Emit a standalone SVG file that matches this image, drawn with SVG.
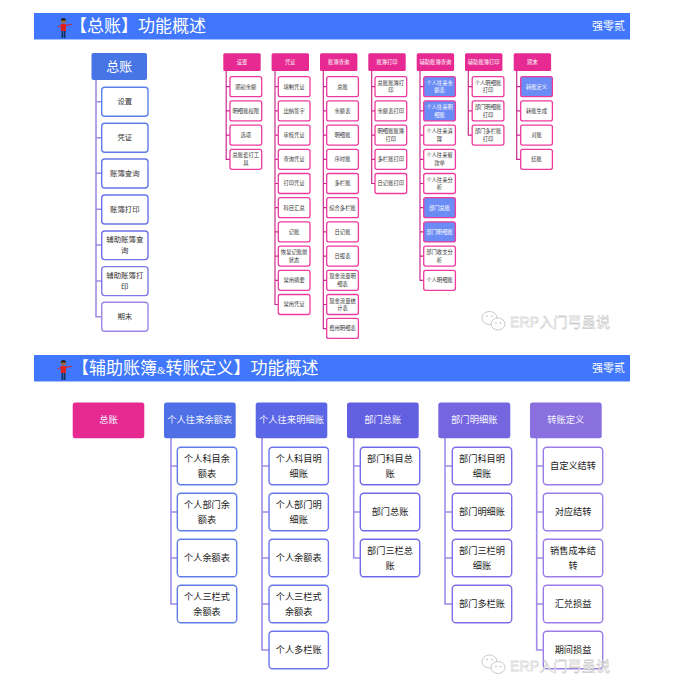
<svg xmlns="http://www.w3.org/2000/svg" width="689" height="692" viewBox="0 0 689 692">
<style>
text{font-family:"Noto Sans CJK SC","Noto Sans",sans-serif;text-anchor:middle}
.hb{fill:#4077fd}.hl{fill:#8fb0ff}
.tt{font-size:17px;fill:#fff;text-anchor:start}
.amp{font-family:"Liberation Serif",serif;font-size:11px}
.au{font-size:11px;fill:#fff}
.c{fill:none;stroke-width:1.6}
.cl{stroke:#a08ae8}.cp{stroke:#c92b8c;stroke-width:1.2}
.lh{font-size:13px;fill:#fff}
.lc{font-size:7.4px;fill:#333}
.b{fill:#fff;stroke-width:1.4}
.ph rect{fill:#e62a91}
.ph text{font-size:5.3px;fill:#fff}
.pc rect{fill:#fff;stroke:#ee3a9e;stroke-width:1.3}
.pc text{font-size:5.3px;fill:#333}
.pc.on rect{fill:#6b8cf5}
.pc.on text{fill:#fff}
.bh text{font-size:9.3px;fill:#f4f4ff}
.bc text{font-size:9.2px;fill:#222}
.wt{font-size:14.2px;fill:#fff;stroke:#adadad;stroke-width:.35;text-anchor:start;font-family:"Liberation Sans","Noto Sans CJK SC",sans-serif}
.wi{fill:#fff;stroke:#bbb;stroke-width:.8}
</style>
<defs>
<g id="person">
<rect x="61.5" y="30" width="1.7" height="8" fill="#16305c"/>
<rect x="63.8" y="30" width="1.7" height="8" fill="#16305c"/>
<rect x="60.8" y="24" width="5.2" height="7" fill="#e0211f"/>
<path d="M61 25.5L57.7 27M66 25.5L71.7 24.3" stroke="#e0211f" stroke-width="1" fill="none"/>
<circle cx="63.4" cy="21" r="2.5" fill="#9a6a3e"/>
<path d="M60.8 20.5a2.6 2.6 0 0 1 5.2 0z" fill="#222"/>
</g>
<g id="wechat">
<ellipse cx="489.5" cy="318" rx="7.5" ry="6.5" class="wi"/>
<ellipse cx="498" cy="324" rx="7" ry="6" class="wi"/>
<circle cx="487" cy="316" r=".8" fill="#b5b5b5"/>
<circle cx="492" cy="316" r=".8" fill="#b5b5b5"/>
<circle cx="496" cy="323" r=".8" fill="#b5b5b5"/>
<circle cx="500.5" cy="323" r=".8" fill="#b5b5b5"/>
</g>
</defs>

<g id="banner1">
<rect class="hb" x="34" y="13" width="596" height="26"/>
<rect class="hl" x="34" y="39" width="596" height=".8"/>
<use href="#person"/>
<text class="tt" x="70" y="32">【总账】功能概述</text>
<text class="au" x="608.5" y="30">强零贰</text>
</g>
<g id="banner2">
<rect class="hb" x="34" y="355" width="596" height="26"/>
<rect class="hl" x="34" y="381" width="596" height=".8"/>
<use href="#person" y="342"/>
<text class="tt" x="72" y="374">【辅助账簿<tspan class="amp">&amp;</tspan>转账定义】功能概述</text>
<text class="au" x="608.5" y="372">强零贰</text>
</g>

<g id="connectors">
<path class="c cl" d="M96 80V316.7H101.7M96 101.7H101.7M96 137.7H101.7M96 173.3H101.7M96 209.3H101.7M96 245H101.7M96 281H101.7"/>
<path class="c cp" d="M226.2 71V159.3H230M226.2 86.7H230M226.2 110.9H230M226.2 135.1H230"/>
<path class="c cp" d="M275 71V304.5H278.3M275 86.7H278.3M275 110.9H278.3M275 135.1H278.3M275 159.3H278.3M275 183.5H278.3M275 207.7H278.3M275 231.9H278.3M275 256.1H278.3M275 280.3H278.3"/>
<path class="c cp" d="M323.3 71V328.7H326.7M323.3 86.7H326.7M323.3 110.9H326.7M323.3 135.1H326.7M323.3 159.3H326.7M323.3 183.5H326.7M323.3 207.7H326.7M323.3 231.9H326.7M323.3 256.1H326.7M323.3 280.3H326.7M323.3 304.5H326.7"/>
<path class="c cp" d="M371.7 71V183.5H375M371.7 86.7H375M371.7 110.9H375M371.7 135.1H375M371.7 159.3H375"/>
<path class="c cp" d="M420 71V280.3H423.7M420 86.7H423.7M420 110.9H423.7M420 135.1H423.7M420 159.3H423.7M420 183.5H423.7M420 207.7H423.7M420 231.9H423.7M420 256.1H423.7"/>
<path class="c cp" d="M468.3 71V135.1H472M468.3 86.7H472M468.3 110.9H472"/>
<path class="c cp" d="M516.7 71V159.3H520.7M516.7 86.7H520.7M516.7 110.9H520.7M516.7 135.1H520.7"/>
<path class="c cl" d="M171 438V604H177.3M171 466H177.3M171 512H177.3M171 558H177.3"/>
<path class="c cl" d="M262 438V650H269M262 466H269M262 512H269M262 558H269M262 604H269"/>
<path class="c cl" d="M353.7 438V558H360.3M353.7 466H360.3M353.7 512H360.3"/>
<path class="c cl" d="M445 438V604H452.3M445 466H452.3M445 512H452.3M445 558H452.3"/>
<path class="c cl" d="M536.7 438V650H543.3M536.7 466H543.3M536.7 512H543.3M536.7 558H543.3M536.7 604H543.3"/>
</g>

<g id="root-a"><rect x="91.5" y="53" width="55.5" height="27" rx="2" fill="#4775e6"/><text class="lh" x="119.2" y="71">总账</text></g>
<g id="a1"><rect class="b" x="101.7" y="87.3" width="46.3" height="29" rx="3" stroke="#5b80ea"/><text class="lc" x="124.8" y="104.4">设置</text></g>
<g id="a2"><rect class="b" x="101.7" y="123.3" width="46.3" height="29" rx="3" stroke="#5f7ce8"/><text class="lc" x="124.8" y="140.4">凭证</text></g>
<g id="a3"><rect class="b" x="101.7" y="159" width="46.3" height="29" rx="3" stroke="#6477e8"/><text class="lc" x="124.8" y="176">账簿查询</text></g>
<g id="a4"><rect class="b" x="101.7" y="195" width="46.3" height="29" rx="3" stroke="#6a73e8"/><text class="lc" x="124.8" y="212">账簿打印</text></g>
<g id="a5"><rect class="b" x="101.7" y="231" width="46.3" height="28.6" rx="3" stroke="#7070e6"/><text class="lc" x="124.8" y="241.8">辅助账簿查</text><text class="lc" x="124.8" y="253.4">询</text></g>
<g id="a6"><rect class="b" x="101.7" y="266.6" width="46.3" height="29" rx="3" stroke="#7f79e6"/><text class="lc" x="124.8" y="277.5">辅助账簿打</text><text class="lc" x="124.8" y="289.2">印</text></g>
<g id="a7"><rect class="b" x="101.7" y="302.3" width="46.3" height="29" rx="3" stroke="#9f86e6"/><text class="lc" x="124.8" y="319.4">期末</text></g>

<g id="p1" class="ph"><rect x="223.3" y="53.3" width="37.4" height="17.7" rx="1.5"/><text x="242" y="64">设置</text></g>
<g id="p1-1" class="pc"><rect x="230" y="76.7" width="31.7" height="20" rx="2"/><text x="245.8" y="88.6">期初余额</text></g>
<g id="p1-2" class="pc"><rect x="230" y="100.9" width="31.7" height="20" rx="2"/><text x="245.8" y="112.8">明细账权限</text></g>
<g id="p1-3" class="pc"><rect x="230" y="125.1" width="31.7" height="20" rx="2"/><text x="245.8" y="137">选项</text></g>
<g id="p1-4" class="pc"><rect x="230" y="149.3" width="31.7" height="20" rx="2"/><text x="245.8" y="157.4">总账套打工</text><text x="245.8" y="165">具</text></g>

<g id="p2" class="ph"><rect x="271.6" y="53.3" width="37.4" height="17.7" rx="1.5"/><text x="290.3" y="64">凭证</text></g>
<g id="p2-1" class="pc"><rect x="278.3" y="76.7" width="31.7" height="20" rx="2"/><text x="294.1" y="88.6">填制凭证</text></g>
<g id="p2-2" class="pc"><rect x="278.3" y="100.9" width="31.7" height="20" rx="2"/><text x="294.1" y="112.8">出纳签字</text></g>
<g id="p2-3" class="pc"><rect x="278.3" y="125.1" width="31.7" height="20" rx="2"/><text x="294.1" y="137">审核凭证</text></g>
<g id="p2-4" class="pc"><rect x="278.3" y="149.3" width="31.7" height="20" rx="2"/><text x="294.1" y="161.2">查询凭证</text></g>
<g id="p2-5" class="pc"><rect x="278.3" y="173.5" width="31.7" height="20" rx="2"/><text x="294.1" y="185.4">打印凭证</text></g>
<g id="p2-6" class="pc"><rect x="278.3" y="197.7" width="31.7" height="20" rx="2"/><text x="294.1" y="209.6">科目汇总</text></g>
<g id="p2-7" class="pc"><rect x="278.3" y="221.9" width="31.7" height="20" rx="2"/><text x="294.1" y="233.8">记账</text></g>
<g id="p2-8" class="pc"><rect x="278.3" y="246.1" width="31.7" height="20" rx="2"/><text x="294.1" y="254.2">恢复记账前</text><text x="294.1" y="261.8">状态</text></g>
<g id="p2-9" class="pc"><rect x="278.3" y="270.3" width="31.7" height="20" rx="2"/><text x="294.1" y="282.2">常用摘要</text></g>
<g id="p2-10" class="pc"><rect x="278.3" y="294.5" width="31.7" height="20" rx="2"/><text x="294.1" y="306.4">常用凭证</text></g>

<g id="p3" class="ph"><rect x="320" y="53.3" width="37.4" height="17.7" rx="1.5"/><text x="338.7" y="64">账簿查询</text></g>
<g id="p3-1" class="pc"><rect x="326.7" y="76.7" width="31.7" height="20" rx="2"/><text x="342.5" y="88.6">总账</text></g>
<g id="p3-2" class="pc"><rect x="326.7" y="100.9" width="31.7" height="20" rx="2"/><text x="342.5" y="112.8">余额表</text></g>
<g id="p3-3" class="pc"><rect x="326.7" y="125.1" width="31.7" height="20" rx="2"/><text x="342.5" y="137">明细账</text></g>
<g id="p3-4" class="pc"><rect x="326.7" y="149.3" width="31.7" height="20" rx="2"/><text x="342.5" y="161.2">序时账</text></g>
<g id="p3-5" class="pc"><rect x="326.7" y="173.5" width="31.7" height="20" rx="2"/><text x="342.5" y="185.4">多栏账</text></g>
<g id="p3-6" class="pc"><rect x="326.7" y="197.7" width="31.7" height="20" rx="2"/><text x="342.5" y="209.6">综合多栏账</text></g>
<g id="p3-7" class="pc"><rect x="326.7" y="221.9" width="31.7" height="20" rx="2"/><text x="342.5" y="233.8">日记账</text></g>
<g id="p3-8" class="pc"><rect x="326.7" y="246.1" width="31.7" height="20" rx="2"/><text x="342.5" y="258">日报表</text></g>
<g id="p3-9" class="pc"><rect x="326.7" y="270.3" width="31.7" height="20" rx="2"/><text x="342.5" y="278.4">现金流量明</text><text x="342.5" y="286">细表</text></g>
<g id="p3-10" class="pc"><rect x="326.7" y="294.5" width="31.7" height="20" rx="2"/><text x="342.5" y="302.6">现金流量统</text><text x="342.5" y="310.2">计表</text></g>
<g id="p3-11" class="pc"><rect x="326.7" y="318.4" width="31.7" height="20" rx="2"/><text x="342.5" y="330.3">费用明细表</text></g>

<g id="p4" class="ph"><rect x="368.3" y="53.3" width="37.4" height="17.7" rx="1.5"/><text x="387" y="64">账簿打印</text></g>
<g id="p4-1" class="pc"><rect x="375" y="76.7" width="31.7" height="20" rx="2"/><text x="390.8" y="84.8">总账账簿打</text><text x="390.8" y="92.4">印</text></g>
<g id="p4-2" class="pc"><rect x="375" y="100.9" width="31.7" height="20" rx="2"/><text x="390.8" y="112.8">余额表打印</text></g>
<g id="p4-3" class="pc"><rect x="375" y="125.1" width="31.7" height="20" rx="2"/><text x="390.8" y="133.2">明细账账簿</text><text x="390.8" y="140.8">打印</text></g>
<g id="p4-4" class="pc"><rect x="375" y="149.3" width="31.7" height="20" rx="2"/><text x="390.8" y="161.2">多栏账打印</text></g>
<g id="p4-5" class="pc"><rect x="375" y="173.5" width="31.7" height="20" rx="2"/><text x="390.8" y="185.4">日记账打印</text></g>

<g id="p5" class="ph"><rect x="416.7" y="53.3" width="37.4" height="17.7" rx="1.5"/><text x="435.4" y="64">辅助账簿查询</text></g>
<g id="p5-1" class="pc on"><rect x="423.7" y="76.7" width="31.7" height="20" rx="2"/><text x="439.5" y="84.8">个人往来余</text><text x="439.5" y="92.4">额表</text></g>
<g id="p5-2" class="pc on"><rect x="423.7" y="100.9" width="31.7" height="20" rx="2"/><text x="439.5" y="109">个人往来明</text><text x="439.5" y="116.6">细账</text></g>
<g id="p5-3" class="pc"><rect x="423.7" y="125.1" width="31.7" height="20" rx="2"/><text x="439.5" y="133.2">个人往来清</text><text x="439.5" y="140.8">理</text></g>
<g id="p5-4" class="pc"><rect x="423.7" y="149.3" width="31.7" height="20" rx="2"/><text x="439.5" y="157.4">个人往来催</text><text x="439.5" y="165">款单</text></g>
<g id="p5-5" class="pc"><rect x="423.7" y="173.5" width="31.7" height="20" rx="2"/><text x="439.5" y="181.6">个人往来分</text><text x="439.5" y="189.2">析</text></g>
<g id="p5-6" class="pc on"><rect x="423.7" y="197.7" width="31.7" height="20" rx="2"/><text x="439.5" y="209.6">部门总账</text></g>
<g id="p5-7" class="pc on"><rect x="423.7" y="221.9" width="31.7" height="20" rx="2"/><text x="439.5" y="233.8">部门明细账</text></g>
<g id="p5-8" class="pc"><rect x="423.7" y="246.1" width="31.7" height="20" rx="2"/><text x="439.5" y="254.2">部门收支分</text><text x="439.5" y="261.8">析</text></g>
<g id="p5-9" class="pc"><rect x="423.7" y="270.3" width="31.7" height="20" rx="2"/><text x="439.5" y="282.2">个人明细账</text></g>

<g id="p6" class="ph"><rect x="465" y="53.3" width="37.4" height="17.7" rx="1.5"/><text x="483.7" y="64">辅助账簿打印</text></g>
<g id="p6-1" class="pc"><rect x="472.2" y="76.7" width="31.7" height="20" rx="2"/><text x="488" y="84.8">个人明细账</text><text x="488" y="92.4">打印</text></g>
<g id="p6-2" class="pc"><rect x="472.2" y="100.9" width="31.7" height="20" rx="2"/><text x="488" y="109">部门明细账</text><text x="488" y="116.6">打印</text></g>
<g id="p6-3" class="pc"><rect x="472.2" y="125.1" width="31.7" height="20" rx="2"/><text x="488" y="133.2">部门多栏账</text><text x="488" y="140.8">打印</text></g>

<g id="p7" class="ph"><rect x="513.7" y="53.3" width="37.4" height="17.7" rx="1.5"/><text x="532.4" y="64">期末</text></g>
<g id="p7-1" class="pc on"><rect x="520.7" y="76.7" width="31.7" height="20" rx="2"/><text x="536.5" y="88.6">转账定义</text></g>
<g id="p7-2" class="pc"><rect x="520.7" y="100.9" width="31.7" height="20" rx="2"/><text x="536.5" y="112.8">转账生成</text></g>
<g id="p7-3" class="pc"><rect x="520.7" y="125.1" width="31.7" height="20" rx="2"/><text x="536.5" y="137">对账</text></g>
<g id="p7-4" class="pc"><rect x="520.7" y="149.3" width="31.7" height="20" rx="2"/><text x="536.5" y="161.2">结账</text></g>

<g id="b0" class="bh"><rect x="72.7" y="402.5" width="71.6" height="35.7" rx="2.5" fill="#e62a91"/><text x="108.5" y="423.4">总账</text></g>

<g id="b1" class="bh"><rect x="164" y="402.5" width="71.7" height="35.7" rx="2.5" fill="#4f6fe6"/><text x="199.8" y="423.4">个人往来余额表</text></g>
<g id="b1-1" class="bc"><rect class="b" x="177.3" y="447.3" width="59.4" height="37.4" rx="3.5" stroke="#5f7ee8"/><text x="207" y="461.6">个人科目余</text><text x="207" y="477">额表</text></g>
<g id="b1-2" class="bc"><rect class="b" x="177.3" y="493.3" width="59.4" height="37.4" rx="3.5" stroke="#5f7ee8"/><text x="207" y="507.6">个人部门余</text><text x="207" y="523">额表</text></g>
<g id="b1-3" class="bc"><rect class="b" x="177.3" y="539.3" width="59.4" height="37.4" rx="3.5" stroke="#5f7ee8"/><text x="207" y="561.3">个人余额表</text></g>
<g id="b1-4" class="bc"><rect class="b" x="177.3" y="585.3" width="59.4" height="37.4" rx="3.5" stroke="#5f7ee8"/><text x="207" y="599.6">个人三栏式</text><text x="207" y="615">余额表</text></g>

<g id="b2" class="bh"><rect x="255.7" y="402.5" width="71.6" height="35.7" rx="2.5" fill="#5a66e6"/><text x="291.5" y="423.4">个人往来明细账</text></g>
<g id="b2-1" class="bc"><rect class="b" x="269" y="447.3" width="59.4" height="37.4" rx="3.5" stroke="#6b74ea"/><text x="298.7" y="461.6">个人科目明</text><text x="298.7" y="477">细账</text></g>
<g id="b2-2" class="bc"><rect class="b" x="269" y="493.3" width="59.4" height="37.4" rx="3.5" stroke="#6b74ea"/><text x="298.7" y="507.6">个人部门明</text><text x="298.7" y="523">细账</text></g>
<g id="b2-3" class="bc"><rect class="b" x="269" y="539.3" width="59.4" height="37.4" rx="3.5" stroke="#6b74ea"/><text x="298.7" y="561.3">个人余额表</text></g>
<g id="b2-4" class="bc"><rect class="b" x="269" y="585.3" width="59.4" height="37.4" rx="3.5" stroke="#6b74ea"/><text x="298.7" y="599.6">个人三栏式</text><text x="298.7" y="615">余额表</text></g>
<g id="b2-5" class="bc"><rect class="b" x="269" y="631.3" width="59.4" height="37.4" rx="3.5" stroke="#6b74ea"/><text x="298.7" y="653.3">个人多栏账</text></g>

<g id="b3" class="bh"><rect x="347" y="402.5" width="71.7" height="35.7" rx="2.5" fill="#625fe0"/><text x="382.8" y="423.4">部门总账</text></g>
<g id="b3-1" class="bc"><rect class="b" x="360.3" y="447.3" width="59.4" height="37.4" rx="3.5" stroke="#7268ea"/><text x="390" y="461.6">部门科目总</text><text x="390" y="477">账</text></g>
<g id="b3-2" class="bc"><rect class="b" x="360.3" y="493.3" width="59.4" height="37.4" rx="3.5" stroke="#7268ea"/><text x="390" y="515.3">部门总账</text></g>
<g id="b3-3" class="bc"><rect class="b" x="360.3" y="539.3" width="59.4" height="37.4" rx="3.5" stroke="#7268ea"/><text x="390" y="553.6">部门三栏总</text><text x="390" y="569">账</text></g>

<g id="b4" class="bh"><rect x="438.3" y="402.5" width="72" height="35.7" rx="2.5" fill="#7566e0"/><text x="474.3" y="423.4">部门明细账</text></g>
<g id="b4-1" class="bc"><rect class="b" x="452.3" y="447.3" width="59.4" height="37.4" rx="3.5" stroke="#7f6de8"/><text x="482" y="461.6">部门科目明</text><text x="482" y="477">细账</text></g>
<g id="b4-2" class="bc"><rect class="b" x="452.3" y="493.3" width="59.4" height="37.4" rx="3.5" stroke="#7f6de8"/><text x="482" y="515.3">部门明细账</text></g>
<g id="b4-3" class="bc"><rect class="b" x="452.3" y="539.3" width="59.4" height="37.4" rx="3.5" stroke="#7f6de8"/><text x="482" y="553.6">部门三栏明</text><text x="482" y="569">细账</text></g>
<g id="b4-4" class="bc"><rect class="b" x="452.3" y="585.3" width="59.4" height="37.4" rx="3.5" stroke="#7f6de8"/><text x="482" y="607.3">部门多栏账</text></g>

<g id="b5" class="bh"><rect x="530" y="402.5" width="71.7" height="35.7" rx="2.5" fill="#8a70de"/><text x="565.8" y="423.4">转账定义</text></g>
<g id="b5-1" class="bc"><rect class="b" x="543.3" y="447.3" width="59.4" height="37.4" rx="3.5" stroke="#9a7de8"/><text x="573" y="469.3">自定义结转</text></g>
<g id="b5-2" class="bc"><rect class="b" x="543.3" y="493.3" width="59.4" height="37.4" rx="3.5" stroke="#9a7de8"/><text x="573" y="515.3">对应结转</text></g>
<g id="b5-3" class="bc"><rect class="b" x="543.3" y="539.3" width="59.4" height="37.4" rx="3.5" stroke="#9a7de8"/><text x="573" y="553.6">销售成本结</text><text x="573" y="569">转</text></g>
<g id="b5-4" class="bc"><rect class="b" x="543.3" y="585.3" width="59.4" height="37.4" rx="3.5" stroke="#9a7de8"/><text x="573" y="607.3">汇兑损益</text></g>
<g id="b5-5" class="bc"><rect class="b" x="543.3" y="631.3" width="59.4" height="37.4" rx="3.5" stroke="#9a7de8"/><text x="573" y="653.3">期间损益</text></g>

<g id="watermark1"><use href="#wechat"/><text class="wt" x="510" y="327">ERP入门弓虽说</text></g>
<g id="watermark2"><use href="#wechat" y="343.5"/><text class="wt" x="510" y="670.5">ERP入门弓虽说</text></g>
</svg>
